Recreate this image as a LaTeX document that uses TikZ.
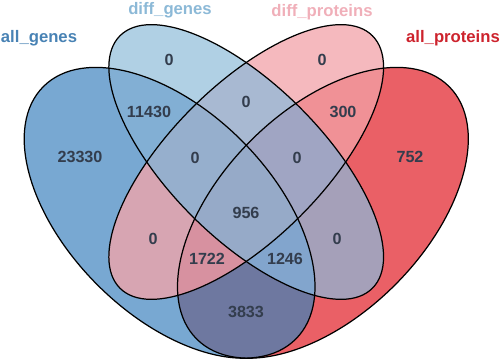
\documentclass[tikz,border=0pt]{standalone}
\usepackage{fontspec}
\setmainfont{Liberation Sans}

\definecolor{agFill}{HTML}{78A8D2}
\definecolor{dgFill}{HTML}{B0D0E4}
\definecolor{dpFill}{HTML}{F5B9BE}
\definecolor{apFill}{HTML}{EA6066}
\definecolor{agdgFill}{HTML}{82AFD4}
\definecolor{agdpFill}{HTML}{D7A5B2}
\definecolor{agapFill}{HTML}{6E78A0}
\definecolor{dgdpFill}{HTML}{A8B9D2}
\definecolor{dgapFill}{HTML}{A5A0B9}
\definecolor{dpapFill}{HTML}{F09196}
\definecolor{agdgdpFill}{HTML}{96AFCD}
\definecolor{agdgapFill}{HTML}{82A5CD}
\definecolor{agdpapFill}{HTML}{D791A0}
\definecolor{dgdpapFill}{HTML}{A0A5C3}
\definecolor{allFill}{HTML}{96AAC8}
\definecolor{countGray}{HTML}{333D4D}
\definecolor{agText}{HTML}{4882B4}
\definecolor{dgText}{HTML}{8CB9D7}
\definecolor{dpText}{HTML}{F0AFB9}
\definecolor{apText}{HTML}{CD232D}

\newcommand{\allgenes}{(169.6,148.2) ellipse [x radius=178.5, y radius=102, rotate=135]}
\newcommand{\diffgenes}{(246.2,199) ellipse [x radius=178.5, y radius=76.5, rotate=135]}
\newcommand{\diffproteins}{(246.2,199) ellipse [x radius=178.5, y radius=76.5, rotate=45]}
\newcommand{\allproteins}{(322.9,148.2) ellipse [x radius=178.5, y radius=102, rotate=45]}

\tikzset{
  rim/.style={draw=black, line width=0.7pt},
  setname/.style={font=\bfseries\fontsize{9.5}{11}\selectfont},
  count/.style={font=\bfseries\fontsize{9.2}{11}\selectfont, text=countGray},
}

\begin{document}
\begin{tikzpicture}[x=0.02cm, y=0.02cm]

      \useasboundingbox (0, 0) rectangle (500, 361);

      % one set
      \fill[agFill] \allgenes;
      \fill[apFill] \allproteins;
      \fill[dgFill] \diffgenes;
      \fill[dpFill] \diffproteins;

      % two sets
      \begin{scope} \clip \allgenes; \fill[agdgFill] \diffgenes; \end{scope}
      \begin{scope} \clip \allgenes; \fill[agdpFill] \diffproteins; \end{scope}
      \begin{scope} \clip \allgenes; \fill[agapFill] \allproteins; \end{scope}
      \begin{scope} \clip \diffgenes; \fill[dgdpFill] \diffproteins; \end{scope}
      \begin{scope} \clip \diffgenes; \fill[dgapFill] \allproteins; \end{scope}
      \begin{scope} \clip \diffproteins; \fill[dpapFill] \allproteins; \end{scope}

      % three sets
      \begin{scope} \clip \allgenes; \clip \diffgenes; \fill[agdgdpFill] \diffproteins; \end{scope}
      \begin{scope} \clip \allgenes; \clip \diffgenes; \fill[agdgapFill] \allproteins; \end{scope}
      \begin{scope} \clip \allgenes; \clip \diffproteins; \fill[agdpapFill] \allproteins; \end{scope}
      \begin{scope} \clip \diffgenes; \clip \diffproteins; \fill[dgdpapFill] \allproteins; \end{scope}

      % four sets
      \begin{scope} \clip \allgenes; \clip \diffgenes; \clip \diffproteins; \fill[allFill] \allproteins; \end{scope}

      \draw[rim] \allgenes;
      \draw[rim] \diffgenes;
      \draw[rim] \diffproteins;
      \draw[rim] \allproteins;

      \node[setname, text = agText] (agName) at (39, 323) {all\_genes};
      \node[setname, text = dgText] (dgName) at (170, 351) {diff\_genes};
      \node[setname, text = dpText] (dpName) at (322, 349) {diff\_proteins};
      \node[setname, text = apText] (apName) at (453, 323) {all\_proteins};

      \node[count] (nAG) at (80, 204) {23330};
      \node[count] (nDG) at (169, 301) {0};
      \node[count] (nDP) at (322, 301) {0};
      \node[count] (nAP) at (410, 204) {752};
      \node[count] (nAGDG) at (149, 249) {11430};
      \node[count] (nDGDP) at (246, 259) {0};
      \node[count] (nDPAP) at (343, 249) {300};
      \node[count] (nAGDGDP) at (195, 203) {0};
      \node[count] (nDGDPAP) at (297, 203) {0};
      \node[count] (nAll) at (246, 148) {956};
      \node[count] (nAGDP) at (153, 122) {0};
      \node[count] (nAGDPAP) at (207, 102) {1722};
      \node[count] (nAGDGAP) at (285, 102) {1246};
      \node[count] (nDGAP) at (337, 122) {0};
      \node[count] (nAGAP) at (246, 49) {3833};

\end{tikzpicture}
\end{document}
